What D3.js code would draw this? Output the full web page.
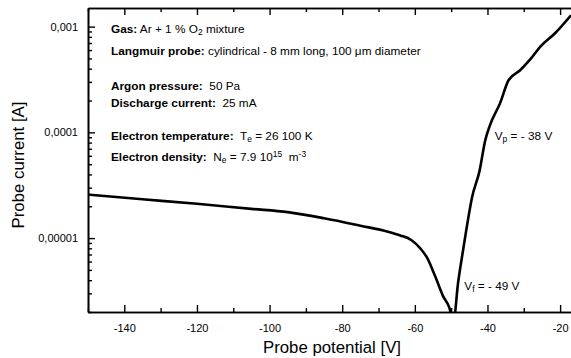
<!DOCTYPE html>
<html>
<head>
<meta charset="utf-8">
<script src="https://cdn.jsdelivr.net/npm/d3@7"></script>
<style>
body { margin: 0; background: #fff; }
text { font-family: "Liberation Sans", Arial, sans-serif; fill: #000; }
</style>
</head>
<body>
<div id="chart-area"></div>
<script>
// probe characteristic
var potential = [-150, -135, -120, -105, -95, -85, -75, -67.4, -64, -61, -58.5, -56.6, -54.4, -52.2, -50.5, -49.4,
	-48.1, -46.7, -44.8, -44.3, -42.2, -40.6, -39.3, -36.5, -34.2, -31, -28, -25.5, -21.4, -17];
var current = [2.58e-5, 2.33e-5, 2.11e-5, 1.89e-5, 1.76e-5, 1.54e-5, 1.31e-5, 1.15e-5, 1.06e-5, 9.6e-6, 8.0e-6, 6.5e-6, 4.35e-6, 2.81e-6, 2.2e-6, 1.6e-6,
	3.76e-6, 7.76e-6, 1.93e-5, 2.38e-5, 4.3e-5, 8.45e-5, 1.17e-4, 1.9e-4, 3.11e-4, 3.87e-4, 5.0e-4, 6.43e-4, 8.65e-4, 1.28e-3];

var xTicks = [-140, -120, -100, -80, -60, -40, -20];
var yTicks = [1e-5, 1e-4, 1e-3];
var yTickLabels = ["0,00001", "0,0001", "0,001"];

// info box, one list of [text, kind] pieces per line
var notes = [
	[["Gas:", "b"], [" Ar + 1 % O", ""], ["2", "sub"], [" mixture", ""]],
	[["Langmuir probe:", "b"], [" cylindrical - 8 mm long, 100 \u03bcm diameter", ""]],
	[["Argon pressure:", "b"], ["\u00a0 50 Pa", ""]],
	[["Discharge current:", "b"], ["\u00a0 25 mA", ""]],
	[["Electron temperature:", "b"], ["\u00a0 T", ""], ["e", "sub"], [" = 26 100 K", ""]],
	[["Electron density:", "b"], ["\u00a0 N", ""], ["e", "sub"], [" = 7.9 10", ""], ["15", "sup"], ["\u00a0 m", ""], ["-3", "sup"]]
];

var marks = [
	{v: -38, c: 1.17e-4, parts: [["V", ""], ["p", "sub"], [" = - 38 V", ""]]},
	{v: -49, c: 3.2e-6, parts: [["V", ""], ["f", "sub"], [" = - 49 V", ""]]}
];

var width = 571;
var height = 358;
var margin = {top: 8, right: 0, bottom: 46, left: 88};
var notesY = [33, 55, 90, 107, 140, 161];
var markShift = [[0, 15], [9.5, -0.5]];
var fs = 11.8;

var svg = d3.select("#chart-area").append("svg")
	.attr("width", width)
	.attr("height", height);

var x = d3.scaleLinear()
	.domain([-150, -17])
	.range([margin.left, width - margin.right]);

var y = d3.scaleLog()
	.domain([2e-6, 1.5e-3])
	.range([height - margin.bottom, margin.top]);

svg.append("clipPath").attr("id", "plot")
	.append("rect")
	.attr("x", margin.left).attr("y", margin.top)
	.attr("width", width - margin.left - margin.right)
	.attr("height", height - margin.top - margin.bottom);

var pts = potential.map((d, i) => [d, current[i]]);

svg.append("path")
	.datum(pts)
	.attr("clip-path", "url(#plot)")
	.attr("fill", "none")
	.attr("stroke", "#000")
	.attr("stroke-width", 2.6)
	.attr("stroke-linejoin", "round")
	.attr("d", d3.line().curve(d3.curveMonotoneX).x(d => x(d[0])).y(d => y(d[1])));

// axes, ticks point inside
var minorX = d3.range(-150, -16, 10).filter(d => xTicks.indexOf(d) < 0);

var bottomAxis = svg.append("g")
	.attr("transform", "translate(0," + (height - margin.bottom) + ")");
bottomAxis.call(d3.axisBottom(x).tickValues(xTicks).tickSizeInner(-7).tickSizeOuter(0).tickPadding(12)
	.tickFormat(d => String(d)));
bottomAxis.append("g").call(d3.axisBottom(x).tickValues(minorX).tickSizeInner(-4).tickSizeOuter(0).tickFormat(""));

var topAxis = svg.append("g")
	.attr("transform", "translate(0," + margin.top + ")");
topAxis.call(d3.axisTop(x).tickValues(xTicks).tickSizeInner(-7).tickSizeOuter(0).tickFormat(""));
topAxis.append("g").call(d3.axisTop(x).tickValues(minorX).tickSizeInner(-4).tickSizeOuter(0).tickFormat(""));

var minorY = [];
[1e-6, 1e-5, 1e-4].forEach(p => { for (var k = 2; k <= 9; k++) minorY.push(p * k); });
minorY = minorY.filter(d => d >= 2e-6 && d <= 1.5e-3);

var leftAxis = svg.append("g")
	.attr("transform", "translate(" + margin.left + ",0)");
leftAxis.call(d3.axisLeft(y).tickValues(yTicks).tickSizeInner(-7).tickSizeOuter(0).tickPadding(10)
	.tickFormat((d, i) => yTickLabels[i]));
leftAxis.append("g").call(d3.axisLeft(y).tickValues(minorY).tickSizeInner(-4).tickSizeOuter(0).tickFormat(""));

svg.selectAll(".domain").attr("stroke", "#000").attr("stroke-width", 1.6);
svg.selectAll(".tick line").attr("stroke", "#000").attr("stroke-width", 1.4);
svg.selectAll(".tick text").attr("font-size", "11px").attr("font-family", "Liberation Sans, Arial, sans-serif").attr("fill", "#000");

function addParts(t, parts, size) {
	parts.forEach(p => {
		var s = t.append("tspan").text(p[0]);
		if (p[1] == "b") s.attr("font-weight", "bold");
		if (p[1] == "sub") s.attr("font-size", (size * 0.72) + "px").attr("baseline-shift", "-28%");
		if (p[1] == "sup") s.attr("font-size", (size * 0.72) + "px").attr("baseline-shift", "45%");
	});
}

notes.forEach((line, i) => {
	var t = svg.append("text")
		.attr("x", 111)
		.attr("y", notesY[i])
		.attr("font-size", fs + "px")
		.attr("xml:space", "preserve");
	addParts(t, line, fs);
});

marks.forEach((m, i) => {
	var t = svg.append("text")
		.attr("x", x(m.v) + markShift[i][0])
		.attr("y", y(m.c) + markShift[i][1])
		.attr("font-size", fs + "px");
	addParts(t, m.parts, fs);
});

svg.append("text")
	.attr("x", 332)
	.attr("y", 353)
	.attr("font-size", "16.8px")
	.attr("text-anchor", "middle")
	.text("Probe potential [V]");

svg.append("text")
	.attr("x", -165)
	.attr("y", 24)
	.attr("font-size", "16.8px")
	.attr("text-anchor", "middle")
	.attr("transform", "rotate(-90)")
	.text("Probe current [A]");
</script>
</body>
</html>
